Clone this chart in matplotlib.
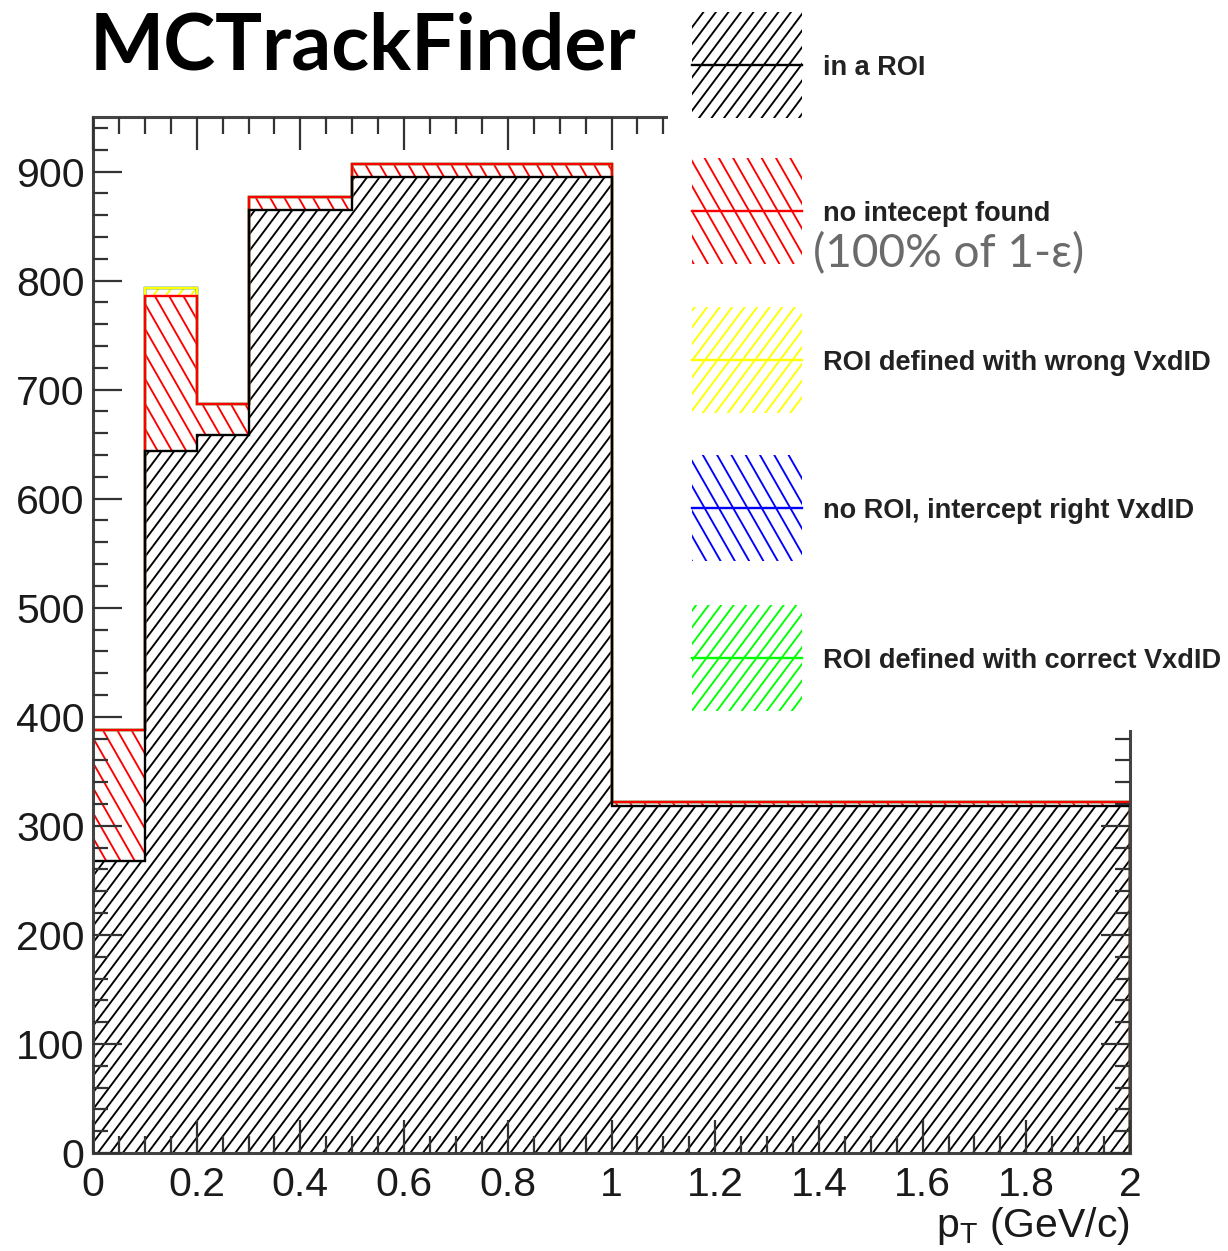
import numpy as np
import matplotlib
matplotlib.use("Agg")
import matplotlib.pyplot as plt
import matplotlib.hatch as mhatch
from matplotlib.path import Path
from matplotlib.patches import Rectangle
from matplotlib.lines import Line2D

# ---------------- data ----------------
bin_edges = [0.0, 0.1, 0.2, 0.3, 0.5, 1.0, 2.0]
in_roi = [268, 644, 658, 865, 895, 318]
no_intercept = [120, 142, 29, 12, 12, 4]
roi_wrong_vxdid = [0, 7, 0, 0, 0, 0]
no_roi_right_vxdid = [0, 0, 0, 0, 0, 0]
roi_correct_vxdid = [0, 0, 0, 0, 0, 0]

series_labels = ["in a ROI", "no intecept found", "ROI defined with wrong VxdID",
                 "no ROI, intercept right VxdID", "ROI defined with correct VxdID"]
series_colors = ["#000000", "#ff0000", "#ffff00", "#0000ff", "#00ff00"]
series_hatches = ["/", "\\", "/", "\\", "/"]

x_ticks = [0, 0.2, 0.4, 0.6, 0.8, 1, 1.2, 1.4, 1.6, 1.8, 2]
x_ticklabels = ["0", "0.2", "0.4", "0.6", "0.8", "1", "1.2", "1.4", "1.6", "1.8", "2"]
y_ticks = [0, 100, 200, 300, 400, 500, 600, 700, 800, 900]
y_ticklabels = [str(v) for v in y_ticks]

title_text = "MCTrackFinder"
annot_text = "(100% of 1-\u03b5)"
xlabel_text = r"p$_\mathregular{T}$ (GeV/c)"

# ---------------- ROOT-like steep hatch patterns ----------------
class _SteepNE(mhatch.HatchPatternBase):
    N, M = 8, 6
    def __init__(self, hatch, density):
        c = hatch.count('/')
        self.n, self.m = self.N * c, self.M * c
        self.num_vertices = 2 * (self.n + self.m + 1) if c else 0
    def set_vertices_and_codes(self, vertices, codes):
        x0 = np.arange(-self.m, self.n + 1) / self.n
        vertices[0::2, 0] = x0
        vertices[0::2, 1] = 0.0
        vertices[1::2, 0] = x0 + self.m / self.n
        vertices[1::2, 1] = 1.0
        codes[0::2] = Path.MOVETO
        codes[1::2] = Path.LINETO

class _SteepNW(mhatch.HatchPatternBase):
    N, M = 7, 4
    def __init__(self, hatch, density):
        c = hatch.count('\\')
        self.n, self.m = self.N * c, self.M * c
        self.num_vertices = 2 * (self.n + self.m + 1) if c else 0
    def set_vertices_and_codes(self, vertices, codes):
        x0 = np.arange(0, self.n + self.m + 1) / self.n
        vertices[0::2, 0] = x0
        vertices[0::2, 1] = 0.0
        vertices[1::2, 0] = x0 - self.m / self.n
        vertices[1::2, 1] = 1.0
        codes[0::2] = Path.MOVETO
        codes[1::2] = Path.LINETO

try:
    ht = mhatch._hatch_types
    for k, cls in enumerate(list(ht)):
        if cls.__name__ == 'NorthEastHatch':
            ht[k] = _SteepNE
        elif cls.__name__ in ('SouthEastHatch', 'NorthWestHatch'):
            ht[k] = _SteepNW
except Exception:
    pass

plt.rcParams['hatch.linewidth'] = 1.35
plt.rcParams['font.family'] = ['Liberation Sans', 'DejaVu Sans']

W, H = 1228, 1251
fig = plt.figure(figsize=(W / 100, H / 100), dpi=100)

def fx(px):
    return px / W

def fy(py):
    return 1 - py / H

ax_left, ax_right, ax_top, ax_bottom = 93, 1130, 117, 1153
ax = fig.add_axes([fx(ax_left), fy(ax_bottom), fx(ax_right) - fx(ax_left),
                   fy(ax_top) - fy(ax_bottom)])

edges = np.array(bin_edges)
lefts = edges[:-1]
widths = np.diff(edges)
all_series = [in_roi, no_intercept, roi_wrong_vxdid, no_roi_right_vxdid, roi_correct_vxdid]

# hatched segments
bottom = np.zeros(len(lefts))
cums = []
for vals, col, hat in zip(all_series, series_colors, series_hatches):
    v = np.array(vals, dtype=float)
    ax.bar(lefts, v, width=widths, bottom=bottom, align='edge', fill=False,
           hatch=hat, edgecolor=col, linewidth=0, zorder=1)
    bottom = bottom + v
    cums.append(bottom.copy())

# outlines, drawn from top of the stack down (ROOT THStack style)
for i in range(len(all_series) - 1, -1, -1):
    ax.stairs(cums[i], edges, baseline=0, fill=False, color=series_colors[i],
              linewidth=1.7, zorder=2 + (len(all_series) - i) * 0.05)

ax.set_xlim(0, 2)
ax.set_ylim(0, 950)
ax.set_xticks(x_ticks)
ax.set_xticklabels(x_ticklabels)
ax.set_yticks(y_ticks)
ax.set_yticklabels(y_ticklabels)
ax.set_xticks(np.arange(0, 2.0001, 0.05), minor=True)
ax.set_yticks(np.arange(0, 950, 20), minor=True)
ax.set_axisbelow(False)

tick_col = '#333333'
ax.tick_params(which='both', direction='in', top=True, right=True,
               color=tick_col, width=1.6, labelsize=29.5, labelcolor='#1a1a1a')
ax.tick_params(axis='x', which='both', pad=9)
ax.tick_params(axis='y', which='both', pad=6)
ax.tick_params(axis='x', which='major', length=24)
ax.tick_params(axis='x', which='minor', length=12)
ax.tick_params(axis='y', which='major', length=21)
ax.tick_params(axis='y', which='minor', length=10.5)
for s in ax.spines.values():
    s.set_color('#444444')
    s.set_linewidth(2.2)

ax.set_xlabel(xlabel_text, fontsize=29.5, color='#1a1a1a', loc='right', labelpad=1)

# ---------------- legend panel (pasted box, top right) ----------------
fig.add_artist(Rectangle((fx(668), fy(730)), 1 - fx(668), fy(0) - fy(730),
                         transform=fig.transFigure, facecolor='white',
                         edgecolor='none', zorder=5))
entry_y = [65, 211, 360, 508, 658]
box_x0, box_x1, box_h = 692, 802, 106
for lab, col, hat, yc in zip(series_labels, series_colors, series_hatches, entry_y):
    fig.add_artist(Rectangle((fx(box_x0), fy(yc + box_h / 2)), fx(box_x1) - fx(box_x0),
                             fy(yc - box_h / 2) - fy(yc + box_h / 2),
                             transform=fig.transFigure, fill=False, hatch=hat,
                             edgecolor=col, linewidth=0, zorder=6))
    fig.add_artist(Line2D([fx(box_x0), fx(box_x1)], [fy(yc), fy(yc)],
                          transform=fig.transFigure, color=col, linewidth=1.7, zorder=7))
    fig.text(fx(823), fy(yc + 3), lab, fontsize=19.5, fontweight='bold',
             color='#222222', ha='left', va='center', zorder=8)

fig.text(fx(813), fy(254), annot_text, fontsize=33, color='#6b6b6b',
         family=['Lato', 'DejaVu Sans'], ha='left', va='center', zorder=8)

fig.text(fx(90), fy(70), title_text, fontsize=56.5, fontweight='bold',
         family=['Lato', 'DejaVu Sans'], color='black', ha='left', va='baseline', zorder=8)

fig.savefig("out.png", dpi=100)
